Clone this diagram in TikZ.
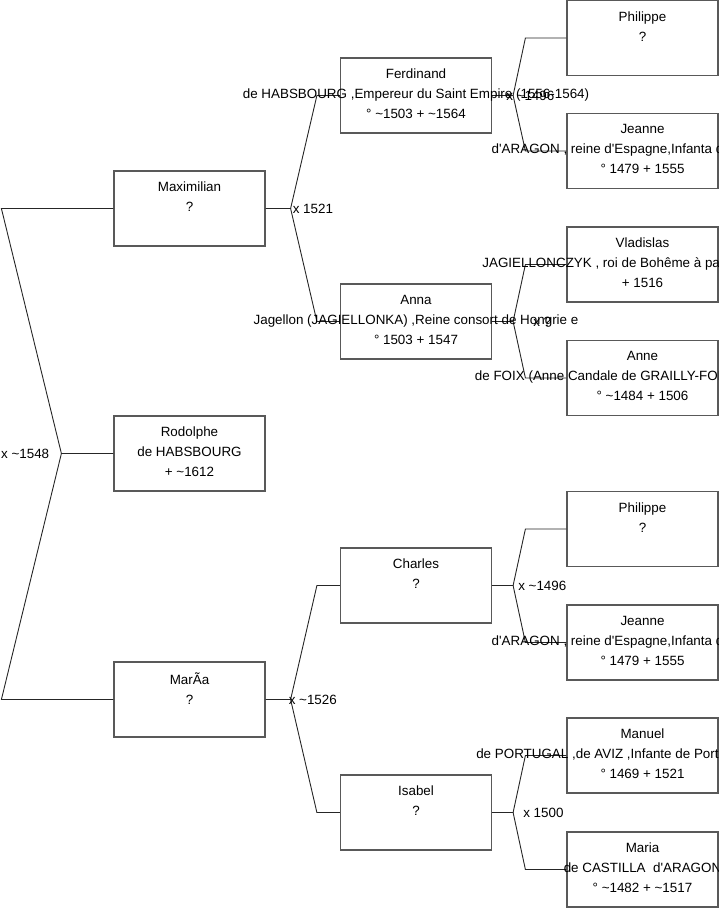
\documentclass[tikz,border=0pt]{standalone}
\usepackage{fontspec}
\setmainfont{Liberation Sans}
\usetikzlibrary{positioning}

\newcommand{\apx}{\textasciitilde}
\newcommand{\apos}{\textquotesingle}

\tikzset{
  person/.style={draw=black!65, line width=1.2pt, minimum width=151pt,
                 minimum height=75pt, inner sep=0pt},
  info/.style={anchor=north, align=center, inner sep=0pt,
               font=\fontsize{13.4}{20}\selectfont},
  link/.style={draw=black!85, line width=0.9pt},
  union/.style={anchor=west, inner sep=0pt, font=\fontsize{13.4}{16}\selectfont}
}

\begin{document}
\begin{tikzpicture}[x=1pt, y=-1pt]
    \useasboundingbox (0,0) rectangle (719,908);
    \clip (0,0) rectangle (719,908);

    % boxes
    \node[person] (rodolphe)   at (189.5,453.5) {};
    \node[person] (maximilian) at (189.5,208.5) {};
    \node[person] (maria)      at (189.5,699.5) {};
    \node[person] (ferdinand)  at (416,95.5) {};
    \node[person] (anna)       at (416,321.5) {};
    \node[person] (charles)    at (416,585.5) {};
    \node[person] (isabel)     at (416,812.5) {};
    \node[person] (philippe)   at (642.5,38) {};
    \node[person] (jeanne)     at (642.5,151) {};
    \node[person] (vladislas)  at (642.5,264.5) {};
    \node[person] (anne)       at (642.5,378) {};
    \node[person] (philippeb)  at (642.5,529) {};
    \node[person] (jeanneb)    at (642.5,642.5) {};
    \node[person] (manuel)     at (642.5,755.5) {};
    \node[person] (mariab)     at (642.5,869.5) {};

    % connectors
    \draw[link] (rodolphe.west) -- ++(-52,0) coordinate (j-rod)
        -- ([xshift=-112pt]maximilian.west) -- (maximilian.west);
    \draw[link] (j-rod) -- ([xshift=-112pt]maria.west) -- (maria.west);

    \draw[link] (maximilian.east) -- ++(25,0) coordinate (j-max)
        -- ([xshift=-23pt]ferdinand.west) -- (ferdinand.west);
    \draw[link] (j-max) -- ([xshift=-23pt]anna.west) -- (anna.west);
    \draw[link] (maria.east) -- ++(25,0) coordinate (j-mar)
        -- ([xshift=-23pt]charles.west) -- (charles.west);
    \draw[link] (j-mar) -- ([xshift=-23pt]isabel.west) -- (isabel.west);

    \draw[link] (ferdinand.east) -- ++(21,0) coordinate (j-fer)
        -- ([xshift=-41pt]philippe.west) -- (philippe.west);
    \draw[link] (j-fer) -- ([xshift=-41pt]jeanne.west) -- (jeanne.west);
    \draw[link] (anna.east) -- ++(21,0) coordinate (j-ann)
        -- ([xshift=-41pt]vladislas.west) -- (vladislas.west);
    \draw[link] (j-ann) -- ([xshift=-41pt]anne.west) -- (anne.west);
    \draw[link] (charles.east) -- ++(21,0) coordinate (j-cha)
        -- ([xshift=-41pt]philippeb.west) -- (philippeb.west);
    \draw[link] (j-cha) -- ([xshift=-41pt]jeanneb.west) -- (jeanneb.west);
    \draw[link] (isabel.east) -- ++(21,0) coordinate (j-isa)
        -- ([xshift=-41pt]manuel.west) -- (manuel.west);
    \draw[link] (j-isa) -- ([xshift=-41pt]mariab.west) -- (mariab.west);

    % unions
    \node[union, anchor=east] (u-rod) at ([xshift=-12pt]j-rod) {x \apx1548};
    \node[union] (u-max) at ([xshift=2pt]j-max) {x 1521};
    \node[union] (u-mar) at ([xshift=-2pt]j-mar) {x \apx1526};
    \node[union] (u-fer) at ([xshift=-7pt]j-fer) {x \apx1496};
    \node[union] (u-ann) at ([xshift=20pt]j-ann) {x ?};
    \node[union] (u-cha) at ([xshift=5pt]j-cha) {x \apx1496};
    \node[union] (u-isa) at ([xshift=10pt]j-isa) {x 1500};

    % texts
    \node[info] (rodolphe-t) at ([yshift=-11.5pt]rodolphe.north)
        {Rodolphe\\de HABSBOURG\\+ \apx1612};
    \node[info] (maximilian-t) at ([yshift=-11.5pt]maximilian.north)
        {Maximilian\\?};
    \node[info] (maria-t) at ([yshift=-11.5pt]maria.north)
        {MarÃa\\?};
    \node[info] (ferdinand-t) at ([yshift=-11.5pt]ferdinand.north)
        {Ferdinand\\de HABSBOURG ,Empereur du Saint Empire (1556-1564)\\° \apx1503 + \apx1564};
    \node[info] (anna-t) at ([yshift=-11.5pt]anna.north)
        {Anna\\Jagellon (JAGIELLONKA) ,Reine consort de Hongrie e\\° 1503 + 1547};
    \node[info] (charles-t) at ([yshift=-11.5pt]charles.north)
        {Charles\\?};
    \node[info] (isabel-t) at ([yshift=-11.5pt]isabel.north)
        {Isabel\\?};
    \node[info] (philippe-t) at ([yshift=-11.5pt]philippe.north)
        {Philippe\\?};
    \node[info] (jeanne-t) at ([yshift=-11.5pt]jeanne.north)
        {Jeanne\\d\apos ARAGON , reine d\apos Espagne,Infanta de Castilla et\\° 1479 + 1555};
    \node[info] (vladislas-t) at ([yshift=-11.5pt]vladislas.north)
        {Vladislas\\JAGIELLONCZYK , roi de Bohême à partir de 1471 et\\+ 1516};
    \node[info] (anne-t) at ([yshift=-11.5pt]anne.north)
        {Anne\\de FOIX (Anne Candale de GRAILLY-FOIX-CANDALE) ,\\° \apx1484 + 1506};
    \node[info] (philippeb-t) at ([yshift=-11.5pt]philippeb.north)
        {Philippe\\?};
    \node[info] (jeanneb-t) at ([yshift=-11.5pt]jeanneb.north)
        {Jeanne\\d\apos ARAGON , reine d\apos Espagne,Infanta de Castilla et\\° 1479 + 1555};
    \node[info] (manuel-t) at ([yshift=-11.5pt]manuel.north)
        {Manuel\\de PORTUGAL ,de AVIZ ,Infante de Portugal ,roi (1495)\\° 1469 + 1521};
    \node[info] (mariab-t) at ([yshift=-11.5pt]mariab.north)
        {Maria\\de CASTILLA\ \ d\apos ARAGON\\° \apx1482 + \apx1517};
\end{tikzpicture}
\end{document}
